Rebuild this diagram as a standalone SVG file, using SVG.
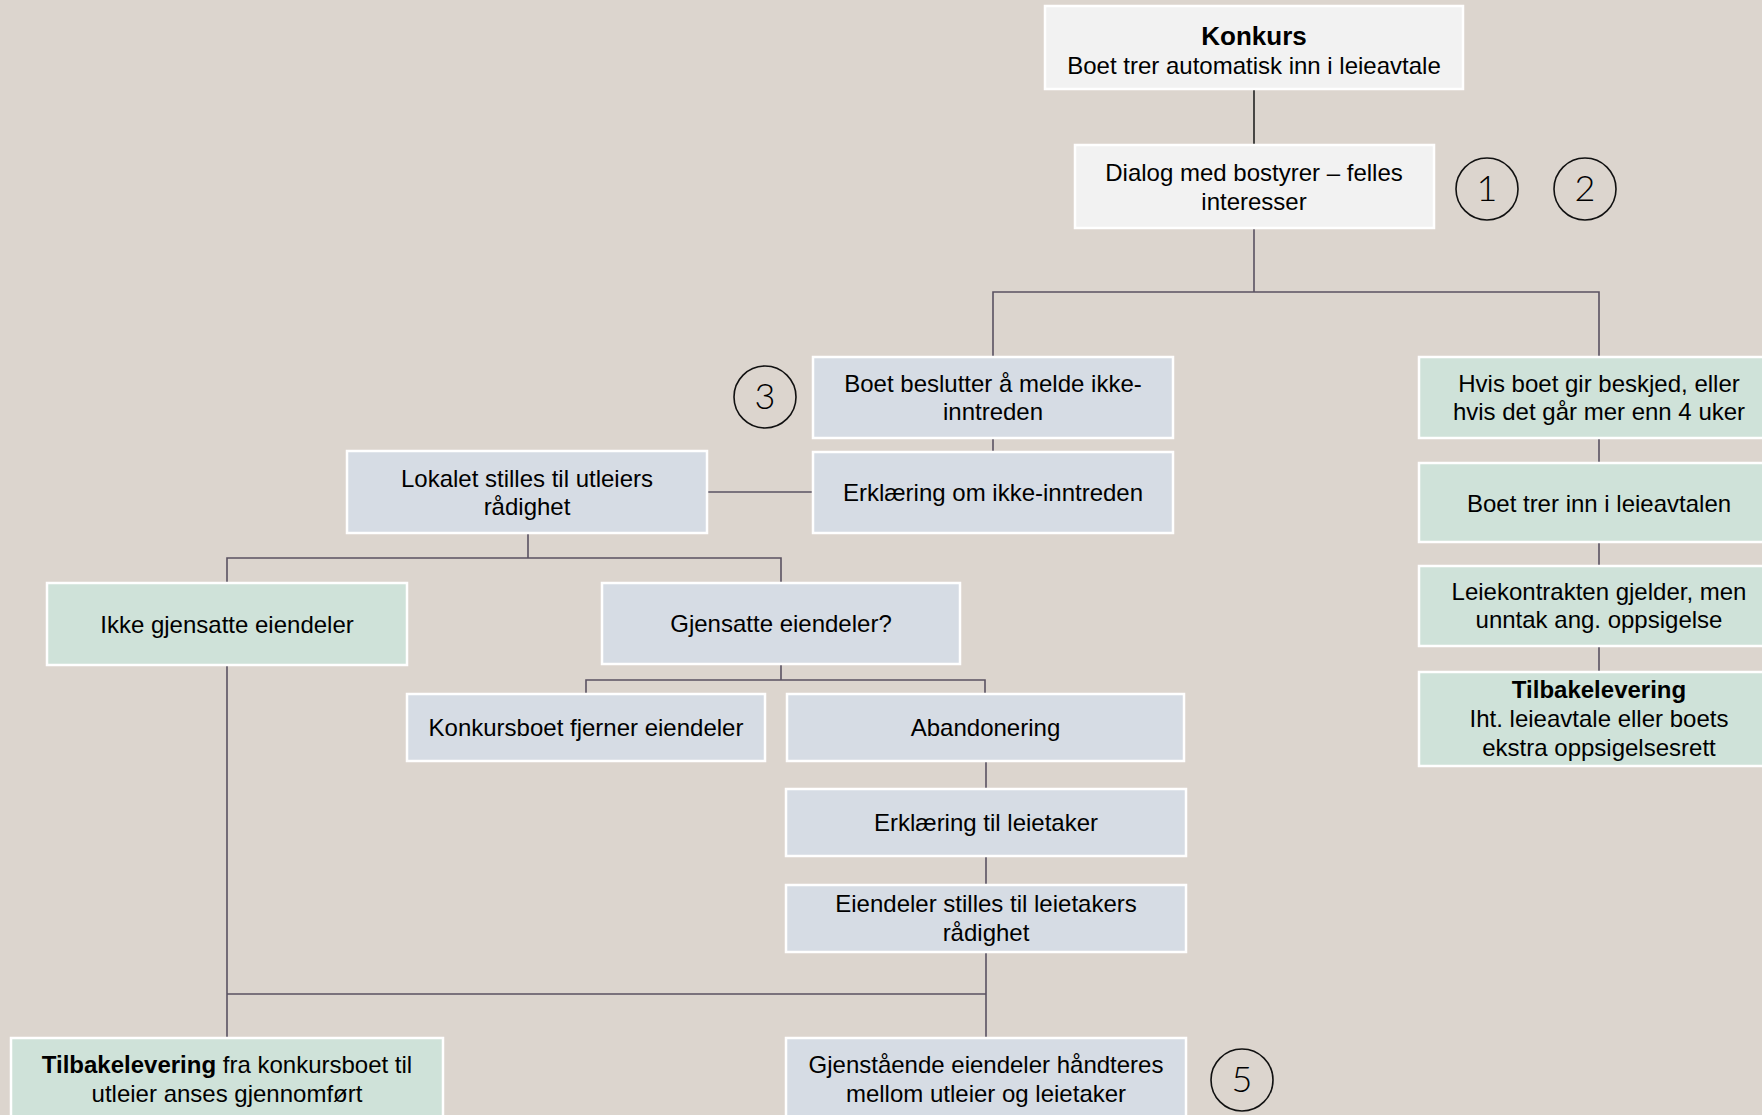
<svg xmlns="http://www.w3.org/2000/svg" width="1762" height="1115" viewBox="0 0 1762 1115">
<style>
.bg{fill:#dcd5ce}
.box{stroke:#ffffff;stroke-width:2.5}
.w{fill:#f2f2f2}
.b{fill:#d6dce4}
.g{fill:#cfe2d9}
text{font-family:"Liberation Sans",Arial,sans-serif;font-size:24px;fill:#000;text-anchor:middle}
.bold{font-weight:bold}
.big{font-size:26px}
.conn{stroke:#5a5262;stroke-width:1.6;fill:none}
.top{stroke:#222;stroke-width:1.6}
.circ{fill:none;stroke:#111;stroke-width:1.6}
.num{font-family:Lato,"Open Sans",sans-serif;font-weight:300;font-size:36px}
</style>
<rect class="bg" x="0" y="0" width="1762" height="1115"/>
<g id="connectors">
<line class="conn top" x1="1254" y1="89" x2="1254" y2="145"/>
<path class="conn" d="M1254 228 V292 M993 357 V292 H1599 V357"/>
<path class="conn" d="M993 438 V452"/>
<path class="conn" d="M707 492 H813"/>
<path class="conn" d="M528 533 V558 M227 583 V558 H781 V583"/>
<path class="conn" d="M781 664 V680 M586 694 V680 H985 V694"/>
<path class="conn" d="M986 761 V789 M986 856 V885 M986 952 V1038"/>
<path class="conn" d="M227 665 V1038 M227 994 H986"/>
<path class="conn" d="M1599 438 V463 M1599 542 V566 M1599 646 V672"/>
</g>
<g id="n-konkurs"><rect class="box w" x="1045" y="6" width="418" height="83"/><text x="1254" y="45" class="bold big">Konkurs</text><text x="1254" y="74">Boet trer automatisk inn i leieavtale</text></g>
<g id="n-dialog"><rect class="box w" x="1075" y="145" width="359" height="83"/><text x="1254" y="181">Dialog med bostyrer – felles</text><text x="1254" y="210">interesser</text></g>
<g id="c1"><circle class="circ" cx="1487" cy="189" r="31"/><text class="num" x="1487" y="201">1</text></g>
<g id="c2"><circle class="circ" cx="1585" cy="189" r="31"/><text class="num" x="1585" y="201">2</text></g>
<g id="c3"><circle class="circ" cx="765" cy="397" r="31"/><text class="num" x="765" y="409">3</text></g>
<g id="c5"><circle class="circ" cx="1242" cy="1080" r="31"/><text class="num" x="1242" y="1092">5</text></g>
<g id="n-beslutter"><rect class="box b" x="813" y="357" width="360" height="81"/><text x="993" y="392">Boet beslutter å melde ikke-</text><text x="993" y="420">inntreden</text></g>
<g id="n-erklaering"><rect class="box b" x="813" y="452" width="360" height="81"/><text x="993" y="501">Erklæring om ikke-inntreden</text></g>
<g id="n-lokalet"><rect class="box b" x="347" y="451" width="360" height="82"/><text x="527" y="487">Lokalet stilles til utleiers</text><text x="527" y="515">rådighet</text></g>
<g id="n-ikke"><rect class="box g" x="47" y="583" width="360" height="82"/><text x="227" y="633">Ikke gjensatte eiendeler</text></g>
<g id="n-gjensatte"><rect class="box b" x="602" y="583" width="358" height="81"/><text x="781" y="632">Gjensatte eiendeler?</text></g>
<g id="n-fjerner"><rect class="box b" x="407" y="694" width="358" height="67"/><text x="586" y="736">Konkursboet fjerner eiendeler</text></g>
<g id="n-abandon"><rect class="box b" x="787" y="694" width="397" height="67"/><text x="985.5" y="736">Abandonering</text></g>
<g id="n-erkl-leie"><rect class="box b" x="786" y="789" width="400" height="67"/><text x="986" y="831">Erklæring til leietaker</text></g>
<g id="n-eiendeler"><rect class="box b" x="786" y="885" width="400" height="67"/><text x="986" y="912">Eiendeler stilles til leietakers</text><text x="986" y="941">rådighet</text></g>
<g id="n-tilbake-left"><rect class="box g" x="11" y="1038" width="432" height="82"/><text x="227" y="1073"><tspan class="bold">Tilbakelevering</tspan> fra konkursboet til</text><text x="227" y="1102">utleier anses gjennomført</text></g>
<g id="n-gjenstaaende"><rect class="box b" x="786" y="1038" width="400" height="82"/><text x="986" y="1073">Gjenstående eiendeler håndteres</text><text x="986" y="1102">mellom utleier og leietaker</text></g>
<g id="n-hvis"><rect class="box g" x="1419" y="357" width="360" height="81"/><text x="1599" y="392">Hvis boet gir beskjed, eller</text><text x="1599" y="420">hvis det går mer enn 4 uker</text></g>
<g id="n-trer"><rect class="box g" x="1419" y="463" width="360" height="79"/><text x="1599" y="512">Boet trer inn i leieavtalen</text></g>
<g id="n-leiekontrakt"><rect class="box g" x="1419" y="566" width="360" height="80"/><text x="1599" y="600">Leiekontrakten gjelder, men</text><text x="1599" y="628">unntak ang. oppsigelse</text></g>
<g id="n-tilbake-right"><rect class="box g" x="1419" y="672" width="360" height="94"/><text x="1599" y="698" class="bold">Tilbakelevering</text><text x="1599" y="727">Iht. leieavtale eller boets</text><text x="1599" y="756">ekstra oppsigelsesrett</text></g>
</svg>
